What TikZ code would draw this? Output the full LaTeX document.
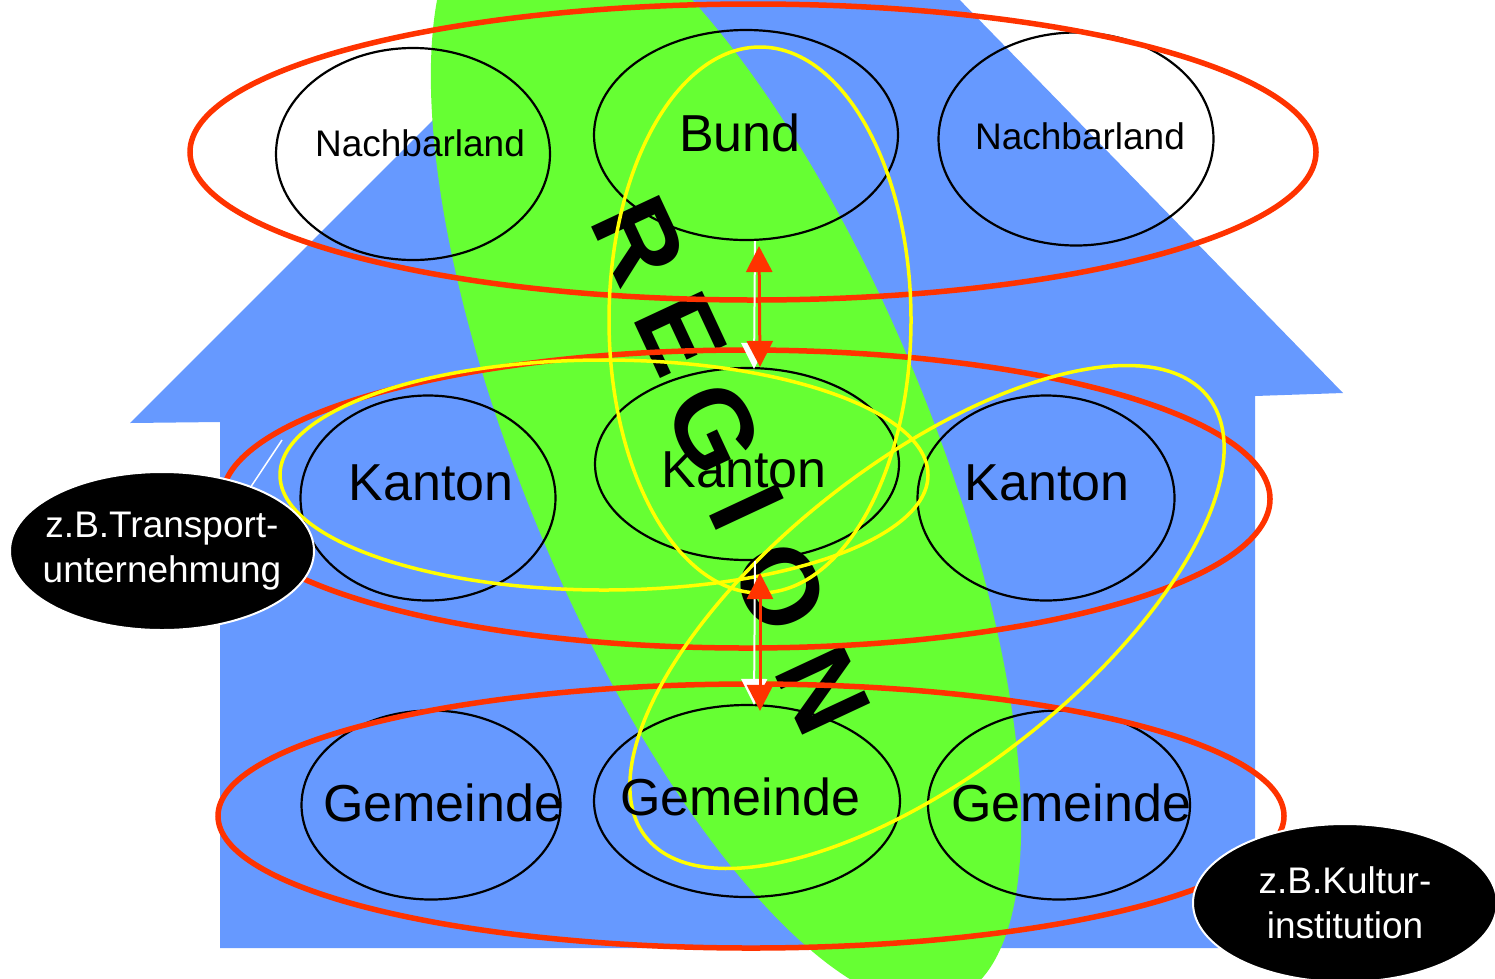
\documentclass[tikz,border=0pt]{standalone}
\usepackage{fontspec}
\setmainfont{Liberation Sans}
\usetikzlibrary{shapes.geometric,arrows.meta}

\definecolor{houseblue}{HTML}{6699FF}
\definecolor{regiongreen}{HTML}{66FF33}
\definecolor{tierred}{HTML}{FF3300}
\definecolor{linkyellow}{HTML}{FFFF00}

\begin{document}
\begin{tikzpicture}[x=1pt,y=-1pt,
  unit/.style={ellipse,draw,line width=2.2pt,inner sep=0pt},
  tier/.style={draw=tierred,line width=5.5pt},
  link/.style={draw=linkyellow,line width=3.5pt},
  big/.style={font=\fontsize{52}{60}\selectfont},
  small/.style={font=\fontsize{37}{45}\selectfont},
  letter/.style={rotate=-65,font=\fontsize{109}{120}\selectfont\bfseries,inner sep=0pt},
  callout/.style={ellipse,fill=black,draw=white,line width=2pt,inner sep=0pt,
    minimum width=304pt,minimum height=158pt},
  callout text/.style={text=white,align=center,font=\fontsize{37}{45}\selectfont},
  updown/.style={tierred,line width=3pt,{Triangle[width=26pt,length=26pt]}-{Triangle[width=26pt,length=26pt]}},
  shadow/.style={white,line width=2pt,-{Triangle[width=26pt,length=26pt]}}]
\useasboundingbox (0,0) rectangle (1495,978);
\clip (0,0) rectangle (1495,978);

\fill[houseblue] (130,423) -- (759,-206) -- (1343,393) -- (1255,396) -- (1255,948)
  -- (220,948) -- (220,422) -- cycle;
\fill[regiongreen,rotate around={22.5:(726,450)}] (726,450) ellipse [x radius=203.5,y radius=594.6];
\foreach \ch/\px/\py in {R/639/240,E/681/334,G/714/428,I/747/507,O/780/587,N/823/690}
  \node[letter] (region-\ch) at (\px,\py) {\ch};

\node[unit,minimum width=274pt,minimum height=212pt] (nbL) at (413,154) {};
\node[unit,minimum width=304pt,minimum height=210pt] (bund) at (746,135) {};
\node[unit,minimum width=275pt,minimum height=213pt] (nbR) at (1076,139) {};
\node[unit,minimum width=255pt,minimum height=205pt] (kantonL) at (428,498) {};
\node[unit,minimum width=304pt,minimum height=192pt] (kantonM) at (747,464) {};
\node[unit,minimum width=257pt,minimum height=205pt] (kantonR) at (1046,498) {};
\node[unit,minimum width=259pt,minimum height=189pt] (gemL) at (431,805) {};
\node[unit,minimum width=306pt,minimum height=192pt] (gemM) at (747,801) {};
\node[unit,minimum width=262pt,minimum height=189pt] (gemR) at (1059,805) {};

\draw[tier] (753,152) ellipse [x radius=563,y radius=148];
\draw[tier] (746,499) ellipse [x radius=524,y radius=149];
\draw[tier] (751,816) ellipse [x radius=533,y radius=132];

\draw[link] (760,320) ellipse [x radius=151,y radius=273];
\draw[link] (604,475) ellipse [x radius=324,y radius=115];
\draw[link,rotate around={38:(927,617)}] (927,617) ellipse [x radius=357,y radius=155];

\draw[shadow] ([xshift=9pt]bund.south) -- ([xshift=7pt,yshift=-2pt]kantonM.north);
\draw[updown] ([xshift=13pt,yshift=-5pt]bund.south) -- ([xshift=13pt]kantonM.north);
\draw[shadow] ([xshift=8pt]kantonM.south) -- ([xshift=7pt,yshift=-1pt]gemM.north);
\draw[updown] ([xshift=13pt,yshift=-12pt]kantonM.south) -- ([xshift=13pt,yshift=-7pt]gemM.north);

\node[small] (nbL-t) at (420,143) {Nachbarland};
\node[big] (bund-t) at (740,133) {Bund};
\node[small] (nbR-t) at (1080,136) {Nachbarland};
\node[big] (kantonL-t) at (431,483) {Kanton};
\node[big] (kantonM-t) at (744,470) {Kanton};
\node[big] (kantonR-t) at (1047,483) {Kanton};
\node[big] (gemL-t) at (443,803) {Gemeinde};
\node[big] (gemM-t) at (740,797) {Gemeinde};
\node[big] (gemR-t) at (1071,803) {Gemeinde};

\node[callout] (transp) at (162,551) {};
\node[callout text] (transp-t) at (162,551) {z.B.Transport-\\unternehmung};
\node[callout] (kultur) at (1345,903) {};
\node[callout text] (kultur-t) at (1345,903) {z.B.Kultur-\\institution};
\coordinate (transp-tip) at (282,440);
\draw[white,line width=1.5pt] (transp.36) -- (transp-tip);
\end{tikzpicture}
\end{document}
